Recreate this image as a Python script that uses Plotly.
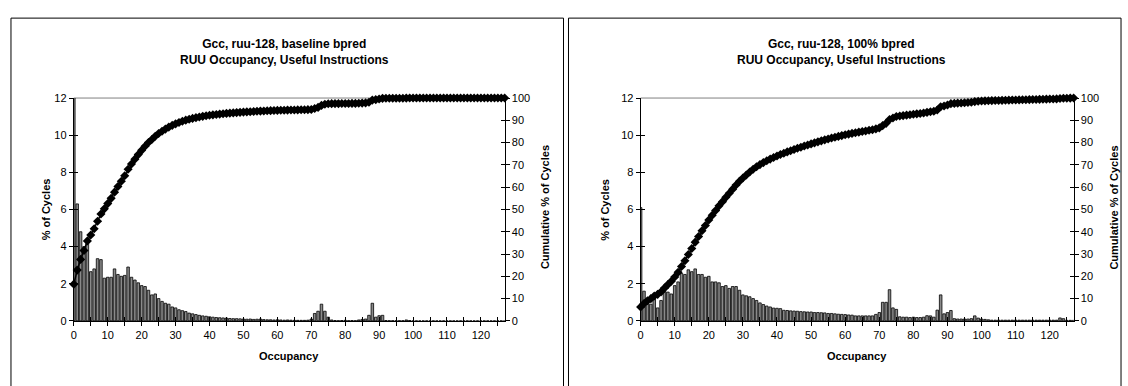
import numpy as np
import plotly.graph_objects as go

occupancy = list(range(128))

baseline_pct = [
    16.5, 6.3, 4.8, 4.0, 4.3, 2.65, 2.8, 3.35, 3.3, 2.3,
    2.35, 2.35, 2.8, 2.5, 2.4, 2.45, 2.9, 2.35, 2.2, 2.05,
    1.9, 1.85, 1.65, 1.4, 1.45, 1.2, 1.05, 0.95, 0.9, 0.75,
    0.7, 0.6, 0.55, 0.5, 0.42, 0.38, 0.34, 0.3, 0.27, 0.25,
    0.22, 0.2, 0.18, 0.17, 0.16, 0.15, 0.13, 0.12, 0.12, 0.11,
    0.1, 0.09, 0.1, 0.08, 0.09, 0.1, 0.07, 0.06, 0.06, 0.05,
    0.06, 0.05, 0.04, 0.05, 0.04, 0.03, 0.03, 0.03, 0.03, 0.04,
    0.1, 0.4, 0.52, 0.9, 0.52, 0.2, 0.05, 0.02, 0.01, 0.02,
    0.03, 0.01, 0.02, 0.01, 0.05, 0.08, 0.1, 0.3, 0.95, 0.2,
    0.28, 0.3, 0.02, 0.01, 0.01, 0.01, 0.01, 0.01, 0.05, 0.02,
    0.0, 0.0, 0.0, 0.0, 0.0, 0.0, 0.0, 0.0, 0.0, 0.0,
    0.0, 0.0, 0.0, 0.0, 0.0, 0.0, 0.0, 0.0, 0.0, 0.0,
    0.0, 0.0, 0.0, 0.0, 0.0, 0.0, 0.0, 0.0,
]

perfect_pct = [
    6.1, 1.6, 1.2, 0.9, 1.2, 0.7, 1.1, 1.65, 1.55, 1.45,
    1.9, 2.1, 2.55, 2.5, 2.75, 2.65, 2.8, 2.5, 2.5, 2.35,
    2.4, 2.1, 2.1, 2.05, 1.85, 1.9, 1.75, 1.85, 1.85, 1.65,
    1.4, 1.35, 1.3, 1.2, 1.1, 0.97, 0.88, 0.8, 0.75, 0.69,
    0.68, 0.66, 0.57, 0.56, 0.54, 0.53, 0.52, 0.5, 0.49, 0.48,
    0.48, 0.45, 0.45, 0.44, 0.43, 0.4, 0.4, 0.38, 0.36, 0.35,
    0.34, 0.32, 0.31, 0.27, 0.27, 0.27, 0.27, 0.27, 0.27, 0.35,
    0.45, 1.0, 1.0, 1.68, 0.7, 0.62, 0.22, 0.2, 0.2, 0.18,
    0.2, 0.18, 0.18, 0.2, 0.28, 0.27, 0.2, 0.58, 1.4, 0.38,
    0.45, 0.56, 0.12, 0.1, 0.1, 0.1, 0.1, 0.12, 0.27, 0.15,
    0.1, 0.08, 0.06, 0.04, 0.04, 0.04, 0.04, 0.04, 0.04, 0.04,
    0.04, 0.04, 0.04, 0.04, 0.04, 0.04, 0.04, 0.04, 0.04, 0.04,
    0.04, 0.04, 0.04, 0.16, 0.12, 0.03, 0.03, 0.03,
]

titles = [
    "Gcc, ruu-128, baseline bpred<br>RUU Occupancy, Useful Instructions",
    "Gcc, ruu-128, 100% bpred<br>RUU Occupancy, Useful Instructions",
]
x_tick_vals = list(range(0, 121, 10))
y_left_ticks = list(range(0, 13, 2))
y_right_ticks = list(range(0, 101, 10))


def cumulative(vals):
    c = np.cumsum(vals)
    return (c / c[-1] * 100).tolist()


W, H = 1128, 386
FONT = "Liberation Sans, Arial, sans-serif"

def px(x):
    return x / W

def py(y):
    return 1 - y / H

panels = [
    dict(x0=71, x1=503, box=(8, 562), data=baseline_pct, title=titles[0],
         ytitle_x=44, rtitle_x=543),
    dict(x0=639.3, x1=1073.5, box=(567, 1121), data=perfect_pct, title=titles[1],
         ytitle_x=604, rtitle_x=1113),
]

fig = go.Figure()
top_px, bot_px = 95, 325
ydom = [py(bot_px), py(top_px)]

layout = dict(
    width=W, height=H,
    margin=dict(l=0, r=0, t=0, b=0),
    paper_bgcolor="white", plot_bgcolor="rgba(0,0,0,0)",
    showlegend=False,
    font=dict(family=FONT, size=11, color="black"),
    bargap=0.25,
    shapes=[], annotations=[],
)

axis_common = dict(showgrid=False, zeroline=False, showline=True, linecolor="black",
                   linewidth=1, ticks="outside", ticklen=4, tickcolor="black",
                   tickfont=dict(family=FONT, size=11, color="black"))
inner_common = dict(showgrid=False, zeroline=False, showline=False, ticks="inside",
                    ticklen=4, tickcolor="black", showticklabels=False)

ax_n = 5  # next free axis number for inside-tick overlays
for i, p in enumerate(panels):
    xa = "x" if i == 0 else "x2"
    ya_l = "y" if i == 0 else "y3"
    ya_r = "y2" if i == 0 else "y4"
    xkey = "xaxis" if i == 0 else "xaxis2"
    ylkey = "yaxis" if i == 0 else "yaxis3"
    yrkey = "yaxis2" if i == 0 else "yaxis4"

    fig.add_trace(go.Bar(
        x=occupancy, y=p["data"], xaxis=xa, yaxis=ya_l,
        marker=dict(color="#8a8a8a", line=dict(color="black", width=0.8)),
        hoverinfo="skip",
    ))
    fig.add_trace(go.Scatter(
        x=occupancy, y=cumulative(p["data"]), xaxis=xa, yaxis=ya_r,
        mode="lines+markers", cliponaxis=False,
        line=dict(color="black", width=1.5),
        marker=dict(symbol="diamond", size=7, color="black"),
        hoverinfo="skip",
    ))

    xdom = [px(p["x0"]), px(p["x1"])]
    layout[xkey] = dict(axis_common, domain=xdom, range=[0, 127],
                        anchor=ya_l, tickmode="array", tickvals=x_tick_vals,
                        ticktext=[str(v) for v in x_tick_vals],
                        minor=dict(dtick=5, tick0=0, ticks="outside", ticklen=4,
                                   tickcolor="black"))
    layout[ylkey] = dict(axis_common, domain=ydom, range=[0, 12], anchor=xa,
                         tickmode="array", tickvals=y_left_ticks)
    layout[yrkey] = dict(axis_common, domain=ydom, range=[0, 100], anchor=xa,
                         overlaying=ya_l, side="right", tickmode="array",
                         tickvals=y_right_ticks)

    # inside-tick overlays so the ticks cross the axis lines
    xin = ax_n; ax_n += 1
    yin_l = ax_n; ax_n += 1
    yin_r = ax_n; ax_n += 1
    layout[f"xaxis{xin}"] = dict(inner_common, domain=xdom, range=[0, 127],
                                 overlaying=xa, anchor=ya_l, tickmode="linear",
                                 tick0=0, dtick=5)
    layout[f"yaxis{yin_l}"] = dict(inner_common, domain=ydom, range=[0, 12],
                                   overlaying=ya_l, anchor=xa, side="left",
                                   tickmode="array", tickvals=y_left_ticks)
    layout[f"yaxis{yin_r}"] = dict(inner_common, domain=ydom, range=[0, 100],
                                   overlaying=ya_l, anchor=xa, side="right",
                                   tickmode="array", tickvals=y_right_ticks)
    # empty traces so the overlay axes are instantiated
    fig.add_trace(go.Scatter(x=[], y=[], xaxis=f"x{xin}", yaxis=ya_l,
                             mode="markers", hoverinfo="skip"))
    fig.add_trace(go.Scatter(x=[], y=[], xaxis=xa, yaxis=f"y{yin_l}",
                             mode="markers", hoverinfo="skip"))
    fig.add_trace(go.Scatter(x=[], y=[], xaxis=xa, yaxis=f"y{yin_r}",
                             mode="markers", hoverinfo="skip"))

    # panel border
    layout["shapes"].append(dict(type="rect", xref="paper", yref="paper",
                                 x0=px(p["box"][0]), x1=px(p["box"][1]),
                                 y0=py(400), y1=py(12.5),
                                 line=dict(color="black", width=1)))
    # top gridline
    layout["shapes"].append(dict(type="line", xref="paper", yref="paper",
                                 x0=px(p["x0"]), x1=px(p["x1"]),
                                 y0=py(top_px), y1=py(top_px),
                                 line=dict(color="#808080", width=1), layer="below"))
    cx = (p["x0"] + p["x1"]) / 2
    tcx = (p["box"][0] + p["box"][1]) / 2 - 3
    layout["annotations"].append(dict(
        text="<b>" + p["title"].replace("<br>", "</b><br><b>") + "</b>",
        xref="paper", yref="paper", x=px(tcx), y=py(47), showarrow=False,
        font=dict(family=FONT, size=12, color="black"), align="center",
        xanchor="center", yanchor="middle"))
    layout["annotations"].append(dict(
        text="<b>% of Cycles</b>", xref="paper", yref="paper",
        x=px(p["ytitle_x"]), y=py(210), textangle=-90, showarrow=False,
        font=dict(family=FONT, size=11, color="black"),
        xanchor="center", yanchor="middle"))
    layout["annotations"].append(dict(
        text="<b>Cumulative % of Cycles</b>", xref="paper", yref="paper",
        x=px(p["rtitle_x"]), y=py(208), textangle=-90, showarrow=False,
        font=dict(family=FONT, size=11, color="black"),
        xanchor="center", yanchor="middle"))
    layout["annotations"].append(dict(
        text="<b>Occupancy</b>", xref="paper", yref="paper",
        x=px(cx), y=py(361), showarrow=False,
        font=dict(family=FONT, size=11, color="black"),
        xanchor="center", yanchor="middle"))

fig.update_layout(**layout)
fig.write_html("out.html")
